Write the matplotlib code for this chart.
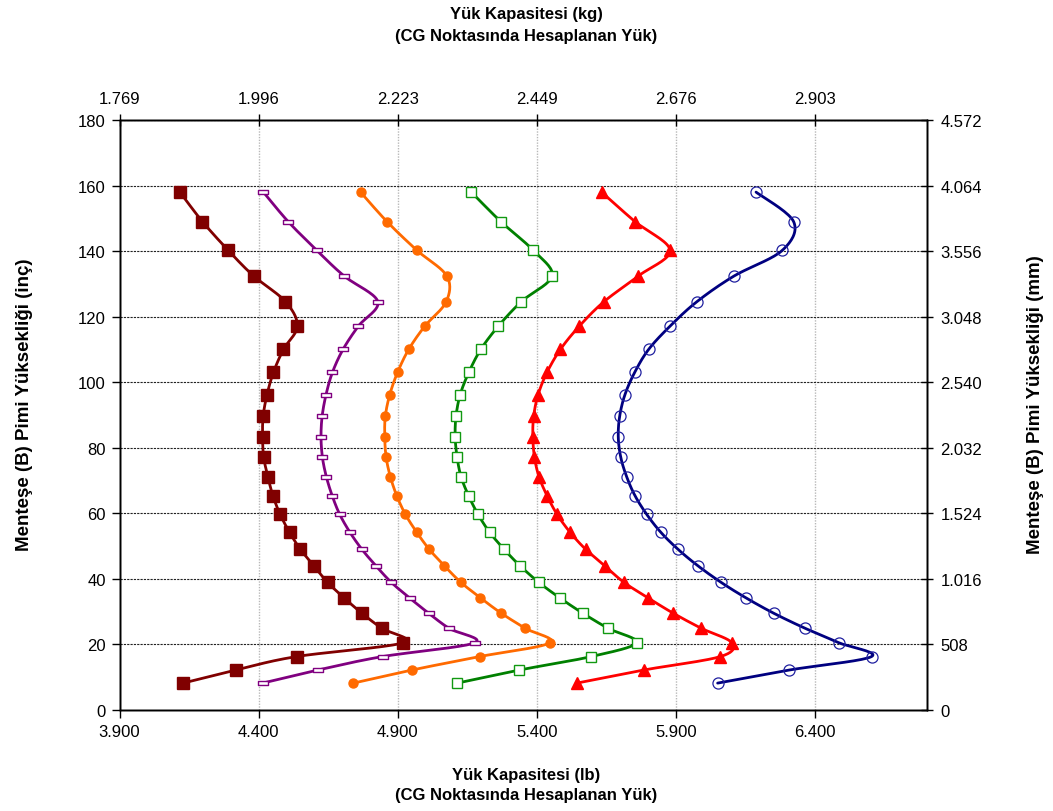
import numpy as np
import matplotlib
matplotlib.use("Agg")
import matplotlib.pyplot as plt
from matplotlib.path import Path

plt.rcParams['font.family'] = ['Liberation Sans', 'DejaVu Sans']

# ---------------- data ----------------
heights_in = [8.2, 12.2, 16.3, 20.5, 24.9, 29.5, 34.2, 38.9, 44.0, 49.0, 54.2, 59.7, 65.4,
              71.2, 77.1, 83.3, 89.6, 96.2, 103.0, 110.0, 117.1, 124.6, 132.4, 140.2, 149.0, 158.0]

brown = [4.128, 4.318, 4.536, 4.918, 4.842, 4.771, 4.707, 4.648, 4.598, 4.550, 4.511, 4.477, 4.451,
         4.433, 4.418, 4.414, 4.416, 4.430, 4.453, 4.489, 4.539, 4.496, 4.382, 4.291, 4.198, 4.117]
purple = [4.414, 4.613, 4.845, 5.176, 5.084, 5.011, 4.942, 4.877, 4.821, 4.771, 4.728, 4.691, 4.664,
          4.643, 4.629, 4.624, 4.628, 4.642, 4.665, 4.703, 4.758, 4.828, 4.707, 4.609, 4.506, 4.417]
orange = [4.740, 4.951, 5.194, 5.447, 5.358, 5.272, 5.197, 5.127, 5.067, 5.013, 4.968, 4.927, 4.896,
          4.873, 4.858, 4.853, 4.855, 4.871, 4.899, 4.939, 4.997, 5.074, 5.076, 4.969, 4.861, 4.766]
green = [5.113, 5.337, 5.595, 5.758, 5.656, 5.565, 5.482, 5.407, 5.339, 5.282, 5.230, 5.188, 5.154,
         5.127, 5.113, 5.106, 5.109, 5.124, 5.155, 5.198, 5.261, 5.344, 5.454, 5.387, 5.270, 5.164]
red = [5.543, 5.784, 6.059, 6.100, 5.991, 5.890, 5.799, 5.713, 5.643, 5.575, 5.519, 5.472, 5.436,
       5.407, 5.391, 5.385, 5.388, 5.404, 5.436, 5.484, 5.552, 5.641, 5.764, 5.878, 5.752, 5.632]
blue = [6.049, 6.307, 6.602, 6.485, 6.364, 6.251, 6.151, 6.062, 5.978, 5.907, 5.845, 5.794, 5.752,
        5.722, 5.701, 5.692, 5.697, 5.716, 5.751, 5.801, 5.878, 5.975, 6.108, 6.281, 6.322, 6.187]

x_ticks_lb = [3.9, 4.4, 4.9, 5.4, 5.9, 6.4]
y_ticks_in = [0, 20, 40, 60, 80, 100, 120, 140, 160, 180]

# ---------------- helpers ----------------
def smooth(xs, ys, sx, sy, n=20):
    """Excel-like smoothed line (Catmull-Rom Bezier) in scaled space."""
    P = np.column_stack([np.asarray(xs) * sx, np.asarray(ys) * sy])
    m = len(P)
    out = [P[0]]
    t = np.linspace(0, 1, n)[1:]
    for i in range(m - 1):
        p0 = P[max(i - 1, 0)]
        p1 = P[i]
        p2 = P[i + 1]
        p3 = P[min(i + 2, m - 1)]
        c1 = p1 + (p2 - p0) / 6.0
        c2 = p2 - (p3 - p1) / 6.0
        seg = ((1 - t) ** 3)[:, None] * p1 + (3 * (1 - t) ** 2 * t)[:, None] * c1 + \
              (3 * (1 - t) * t ** 2)[:, None] * c2 + (t ** 3)[:, None] * p2
        out.extend(seg)
    out = np.array(out)
    return out[:, 0] / sx, out[:, 1] / sy

dash_marker = Path([(-1, -0.32), (1, -0.32), (1, 0.32), (-1, 0.32), (-1, -0.32)],
                   [Path.MOVETO, Path.LINETO, Path.LINETO, Path.LINETO, Path.CLOSEPOLY])

# ---------------- figure ----------------
fig = plt.figure(figsize=(10.53, 8.12), dpi=100)
ax = fig.add_axes([0.1135, 0.1244, 0.7665, 0.7266])
xmin, xmax = 3.9, 6.8
ymin, ymax = 0, 180
ax.set_xlim(xmin, xmax)
ax.set_ylim(ymin, ymax)

sx = 808 / (xmax - xmin)
sy = 590 / (ymax - ymin)

series = [
    (brown, '#800000', dict(marker='s', ms=8, mfc='#800000', mec='#800000', mew=1)),
    (purple, '#800080', dict(marker=dash_marker, ms=7.5, mfc='white', mec='#800080', mew=1)),
    (orange, '#FF6A00', dict(marker='o', ms=6.5, mfc='#FF6A00', mec='#FF6A00', mew=1)),
    (green, '#008000', dict(marker='s', ms=7.5, mfc='white', mec='#119911', mew=1)),
    (red, '#FF0000', dict(marker='^', ms=8, mfc='#FF0000', mec='#FF0000', mew=1)),
    (blue, '#000080', dict(marker='o', ms=8, mfc='none', mec='#2020A0', mew=0.9)),
]

for xs, col, mk in series:
    cx, cy = smooth(xs, heights_in, sx, sy)
    ax.plot(cx, cy, color=col, lw=2.0, zorder=3, solid_capstyle='round')
    ax.plot(xs, heights_in, linestyle='none', zorder=4, **mk)

# grid
for xv in x_ticks_lb[1:]:
    ax.axvline(xv, color='#b8b8b8', lw=1.0, ls=(0, (1, 1)), zorder=1)
for yv in y_ticks_in[1:-1]:
    ax.axhline(yv, color='#222222', lw=0.8, ls=(0, (2, 1)), zorder=1)
ax.axhline(180, color='#222222', lw=0.8, ls=(0, (2, 1)), zorder=1)

for s in ax.spines.values():
    s.set_linewidth(1.0)

ax.set_xticks(x_ticks_lb)
ax.set_xticklabels([f"{v:.3f}" for v in x_ticks_lb])
ax.set_yticks(y_ticks_in)
ax.set_yticklabels([str(v) for v in y_ticks_in])
ax.tick_params(axis='both', direction='out', length=6, width=1, labelsize=12, pad=4)

# top axis (kg)
axt = ax.twiny()
axt.set_xlim(xmin, xmax)
axt.set_xticks(x_ticks_lb)
axt.set_xticklabels([f"{v * 0.45359237:.3f}" for v in x_ticks_lb])
axt.tick_params(axis='x', direction='inout', length=8, width=1, labelsize=12, pad=6)

# right axis (mm)
axr = ax.twinx()
axr.set_ylim(ymin, ymax)
axr.set_yticks(y_ticks_in)
axr.set_yticklabels([f"{v * 25.4:,.0f}".replace(',', '.') for v in y_ticks_in])
axr.tick_params(axis='y', direction='inout', length=8, width=1, labelsize=12, pad=6)
for a in (axt, axr):
    for s in a.spines.values():
        s.set_linewidth(1.0)

# labels
fig.text(0.5, 1 - 15 / 812, "Yük Kapasitesi (kg)", ha='center', va='center',
         fontsize=12, fontweight='bold')
fig.text(0.5, 1 - 37 / 812, "(CG Noktasında Hesaplanan Yük)", ha='center', va='center',
         fontsize=12, fontweight='bold')
fig.text(0.5, 1 - 776 / 812, "Yük Kapasitesi (lb)", ha='center', va='center',
         fontsize=12, fontweight='bold')
fig.text(0.5, 1 - 796 / 812, "(CG Noktasında Hesaplanan Yük)", ha='center', va='center',
         fontsize=12, fontweight='bold')
fig.text(25 / 1053, 1 - 405 / 812, "Menteşe (B) Pimi Yüksekliği (inç)", ha='center', va='center',
         rotation=90, fontsize=13.5, fontweight='bold')
fig.text(1036 / 1053, 1 - 405 / 812, "Menteşe (B) Pimi Yüksekliği (mm)", ha='center', va='center',
         rotation=90, fontsize=13.5, fontweight='bold')

fig.savefig("out.png", dpi=100)
